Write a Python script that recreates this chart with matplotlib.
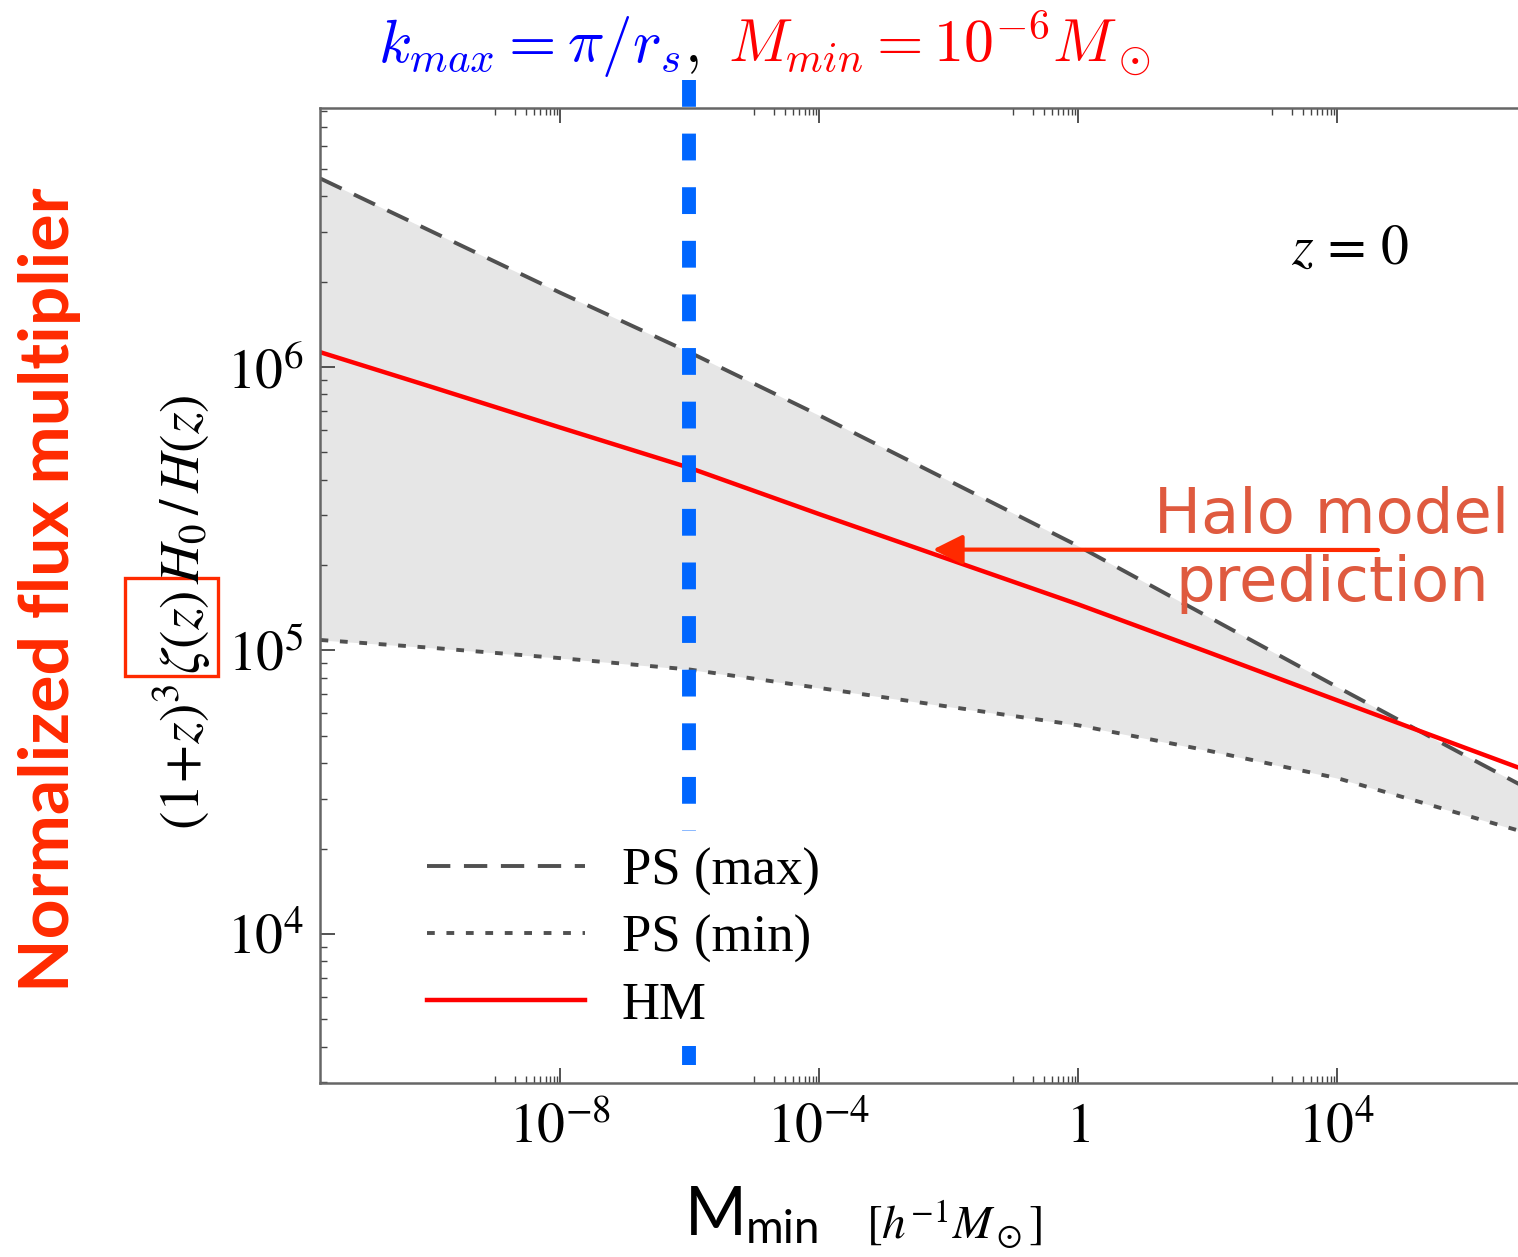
import numpy as np
import matplotlib
matplotlib.use('Agg')
import matplotlib.pyplot as plt
from matplotlib.patches import Rectangle
from matplotlib.ticker import FixedLocator, FuncFormatter, LogLocator

# minimum halo mass [h^-1 Msun]
mmin = [2e-12, 1e-10, 1e-8, 1e-6, 1e-4, 1e-2, 1, 1e2, 1e4, 1e6, 1e7]
ps_max = [4.62e6, 3.02e6, 1.83e6, 1.127e6, 6.76e5, 3.98e5, 2.34e5, 1.32e5, 7.45e4, 4.24e4, 3.21e4]
ps_min = [1.089e5, 1.023e5, 9.40e4, 8.57e4, 7.38e4, 6.34e4, 5.45e4, 4.44e4, 3.55e4, 2.62e4, 2.25e4]
hm = [1.127e6, 8.53e5, 6.12e5, 4.41e5, 3.03e5, 2.10e5, 1.456e5, 9.89e4, 6.68e4, 4.52e4, 3.72e4]

kmax_mass = 1e-6
xticks = [1e-8, 1e-4, 1, 1e4]

W, H = 1518, 1257
plt.rcParams['mathtext.fontset'] = 'stix'
plt.rcParams['font.family'] = ['Liberation Serif', 'DejaVu Serif']

def px(x, y):
    return x / W, 1 - y / H

fig = plt.figure(figsize=(W / 100, H / 100), dpi=100)
ax = fig.add_axes([320 / W, 1 - 1083 / H, 1211 / W, 975 / H])

ax.fill_between(mmin, ps_min, ps_max, color='#e6e6e6', lw=0)
ax.plot(mmin, ps_max, color='#505050', lw=2.8, dashes=(6, 3.5), label='PS (max)')
ax.plot(mmin, ps_min, color='#505050', lw=2.8, dashes=(2, 3), label='PS (min)')
ax.plot(mmin, hm, color='#ff0000', lw=3.2, label='HM')

ax.set_xscale('log')
ax.set_yscale('log')
ax.set_xlim(10**-11.707, 10**7.0)
ax.set_ylim(10**3.4744, 10**6.9136)

# vertical k_max line
ax.plot([kmax_mass, kmax_mass], [1.0287, 0.018], color='#0066ff', lw=10,
        dashes=(1.93, 1.93), transform=ax.get_xaxis_transform(), clip_on=False)

ax.xaxis.set_major_locator(FixedLocator(xticks))
minors = [t / 10 * k for t in xticks for k in range(1, 10)]
ax.xaxis.set_minor_locator(FixedLocator(minors))
ax.yaxis.set_major_locator(LogLocator(base=10, numticks=20))
ax.yaxis.set_minor_locator(LogLocator(base=10, subs=np.arange(2, 10), numticks=20))

def fmt(v, pos):
    n = int(round(np.log10(v)))
    return r'$1$' if n == 0 else r'$10^{%d}$' % n

ax.xaxis.set_major_formatter(FuncFormatter(fmt))
ax.yaxis.set_major_formatter(FuncFormatter(fmt))
ax.xaxis.set_minor_formatter(FuncFormatter(lambda v, p: ''))
ax.yaxis.set_minor_formatter(FuncFormatter(lambda v, p: ''))

ax.tick_params(which='both', direction='in', top=True, right=False, color='#444444', labelsize=40)
ax.tick_params(which='major', length=11, width=1.3)
ax.tick_params(which='minor', length=5, width=1.0)
ax.tick_params(axis='x', pad=14)
ax.tick_params(axis='y', pad=12)
for s in ax.spines.values():
    s.set_color('#666666')
    s.set_linewidth(1.8)

# legend box is opaque white, it hides the blue line behind it
leg = ax.legend(loc='upper left', bbox_to_anchor=(0.075, 0.258), frameon=True,
                facecolor='white', edgecolor='none', framealpha=1, fancybox=False,
                fontsize=38, handlelength=3.0, handletextpad=0.7, labelspacing=0.36,
                borderpad=0.3, borderaxespad=0)
leg.set_zorder(10)

ax.text(0.8505, 0.855, r'$z\,=\,0$', transform=ax.transAxes, fontsize=40, ha='center', va='center')

# annotation arrow
ax.annotate('', xy=(10**-2.239, 10**5.356), xycoords='data',
            xytext=(1378, H - 550), textcoords='figure pixels',
            arrowprops=dict(arrowstyle='-|>,head_length=0.9,head_width=0.45',
                            mutation_scale=20, lw=3, color='#ff2a00',
                            shrinkA=0, shrinkB=0))
fig.text(*px(1332, 550), 'Halo model\nprediction', family='DejaVu Sans', fontsize=45,
         color='#df5a3f', ha='center', va='center', linespacing=1.15)

# title
fig.text(*px(378, 62), r'$k_{max} = \pi / r_s$', color='#0000ff', fontsize=44,
         math_fontfamily='cm', ha='left', va='baseline')
fig.text(*px(684, 62), r'$,$', color='black', fontsize=44, math_fontfamily='cm',
         ha='left', va='baseline')
fig.text(*px(728, 62), r'$M_{min} = 10^{-6} M_\odot$', color='#ff0000', fontsize=43,
         math_fontfamily='cm', ha='left', va='baseline')

# y labels
fig.text(*px(182, 612), r'$(1\!+\!z)^3\,\zeta(z)\,H_0\,/\,H(z)$', rotation=90,
         fontsize=40, ha='center', va='center')
fig.add_artist(Rectangle(px(125, 676), 93 / W, 98 / H, transform=fig.transFigure,
                         fill=False, ec='#ff2a00', lw=2.4))
fig.text(*px(50, 590), 'Normalized flux multiplier', rotation=90, fontsize=50,
         fontweight='bold', color='#ff2a00', family=['Lato', 'DejaVu Sans'],
         ha='center', va='center')

# x label
fig.text(*px(685, 1235), 'M', fontsize=48, family=['Lato', 'DejaVu Sans'],
         ha='left', va='baseline')
fig.text(*px(746, 1243), 'min', fontsize=33, family=['Lato', 'DejaVu Sans'],
         ha='left', va='baseline')
fig.text(*px(866, 1240), r'$[h^{-1}M_\odot]$', fontsize=34, ha='left', va='baseline')

fig.savefig('out.png', dpi=100)
